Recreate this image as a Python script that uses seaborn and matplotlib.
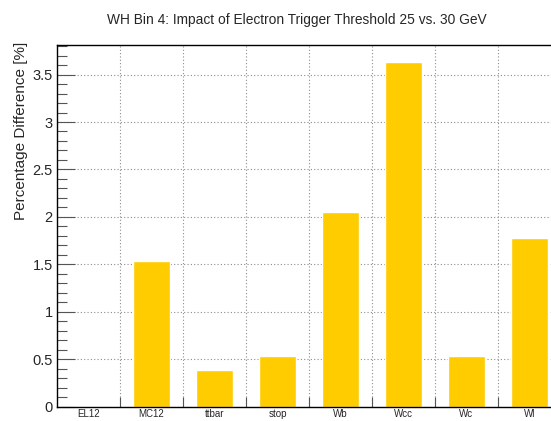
import numpy as np
import pandas as pd
import matplotlib
matplotlib.use("Agg")
import matplotlib.pyplot as plt
import seaborn as sns
from matplotlib.ticker import MultipleLocator, FuncFormatter

samples = ["EL12", "MC12", "ttbar", "stop", "Wb", "Wcc", "Wc", "Wl"]
pct_diff = [0.0, 1.534, 0.384, 0.53, 2.05, 3.63, 0.538, 1.776]

title = "WH Bin 4: Impact of Electron Trigger Threshold 25 vs. 30 GeV"
ylabel = "Percentage Difference [%]"

df = pd.DataFrame({"sample": samples, "diff": pct_diff})

sns.set_style("white")
plt.rcParams["font.family"] = ["Liberation Sans", "DejaVu Sans"]

fig = plt.figure(figsize=(5.51, 4.21), dpi=100)
ax = fig.add_axes([57 / 551, 14.3 / 421, 504 / 551, 361.7 / 421])

sns.barplot(data=df, x="sample", y="diff", order=samples, color="#ffcc00",
            saturation=1, width=0.6, ax=ax, zorder=2)

n = len(samples)
ax.set_xlim(-0.5, n - 0.5)
ax.set_ylim(0, max(pct_diff) * 1.05)

# bin edges as minor ticks, with dotted grid on edges and y majors
ax.set_xticks(np.arange(0.5, n - 0.5), minor=True)
ax.yaxis.set_major_locator(MultipleLocator(0.5))
ax.yaxis.set_minor_locator(MultipleLocator(0.1))
ax.yaxis.set_major_formatter(FuncFormatter(lambda v, p: f"{v:g}"))

grid_kw = dict(color="#8c8c8c", linestyle=(0, (1, 2)), linewidth=0.8)
ax.grid(True, axis="y", which="major", **grid_kw)
ax.grid(True, axis="x", which="minor", **grid_kw)
ax.grid(False, axis="x", which="major")
ax.set_axisbelow(True)

ax.tick_params(axis="x", which="major", length=0, labelsize=7, pad=2)
ax.tick_params(axis="x", which="minor", direction="in", length=7,
               width=0.8, color="#555555", bottom=True)
ax.tick_params(axis="y", which="major", direction="in", length=13,
               width=0.8, color="#555555", labelsize=10.5, pad=3, left=True)
ax.tick_params(axis="y", which="minor", direction="in", length=7,
               width=0.8, color="#555555", left=True)

for side in ["left", "top", "bottom", "right"]:
    ax.spines[side].set_visible(True)
    ax.spines[side].set_color("black")
    ax.spines[side].set_linewidth(1.0)

ax.set_xlabel("")
ax.set_ylabel("")
fig.text(21 / 551, 1 - 42 / 421, ylabel, rotation=90, ha="center", va="top",
         fontsize=11)
fig.text(297 / 551, 1 - 20 / 421, title, ha="center", va="center", fontsize=9.9)

fig.savefig("out.png", dpi=100)
